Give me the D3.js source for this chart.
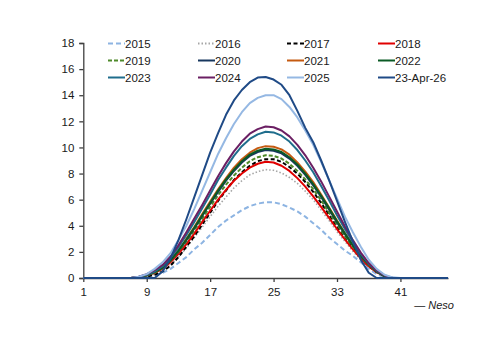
<!DOCTYPE html>
<html>
<head>
<meta charset="utf-8">
<script src="https://cdn.jsdelivr.net/npm/d3@7"></script>
<style>
  body { margin: 0; background: #fff; }
  svg { display: block; }
  text { font-family: "Liberation Sans", Arial, sans-serif; }
</style>
</head>
<body>
<svg id="chart" width="500" height="353"></svg>
<script>
// half-hour periods 1..47
const periods = d3.range(1, 48);
const xTicks = [1, 9, 17, 25, 33, 41];
const yTicks = [0, 2, 4, 6, 8, 10, 12, 14, 16, 18];

// GW by half-hour period (1..47)
const y2015 = [0,0,0,0,0,0,0, 0,0.1,0.2,0.4,0.7,1.15,1.6,2.2,2.7,3.3,3.9,4.4,4.8,5.2,5.5,5.7,5.8,5.8,5.65,5.4,5.1,4.7,4.2,3.7,3.1,2.6,2.1,1.7,1.2,0.7,0.3,0.05,0, 0,0,0,0,0,0,0];
const y2016 = [0,0,0,0,0,0,0, 0,0.15,0.3,0.55,1.0,1.6,2.3,3.1,3.9,4.7,5.5,6.2,6.9,7.45,7.9,8.15,8.3,8.25,8.05,7.7,7.25,6.65,6.0,5.2,4.4,3.55,2.8,2.05,1.4,0.85,0.4,0.15,0, 0,0,0,0,0,0,0];
const y2017 = [0,0,0,0,0,0,0, 0,0.1,0.25,0.5,0.95,1.6,2.4,3.2,4.1,5.0,5.9,6.7,7.5,8.1,8.6,8.95,9.1,9.1,8.9,8.5,8.0,7.35,6.6,5.75,4.85,3.9,3.05,2.25,1.5,0.9,0.45,0.15,0, 0,0,0,0,0,0,0];
const y2018 = [0,0,0,0,0,0,0, 0.05,0.2,0.4,0.7,1.2,1.85,2.6,3.4,4.3,5.15,6.0,6.75,7.45,8.0,8.45,8.75,8.9,8.85,8.6,8.2,7.65,7.0,6.25,5.45,4.6,3.75,2.95,2.2,1.5,0.9,0.45,0.15,0, 0,0,0,0,0,0,0];
const y2019 = [0,0,0,0,0,0,0, 0.05,0.2,0.4,0.75,1.3,2.0,2.8,3.65,4.55,5.45,6.35,7.15,7.85,8.45,8.95,9.25,9.4,9.35,9.15,8.75,8.2,7.55,6.8,5.95,5.0,4.1,3.2,2.4,1.65,1.0,0.5,0.15,0, 0,0,0,0,0,0,0];
const y2020 = [0,0,0,0,0,0,0, 0.05,0.2,0.45,0.8,1.35,2.05,2.9,3.8,4.75,5.7,6.6,7.45,8.2,8.85,9.35,9.65,9.8,9.75,9.55,9.15,8.6,7.9,7.1,6.2,5.25,4.25,3.35,2.5,1.7,1.05,0.5,0.15,0, 0,0,0,0,0,0,0];
const y2021 = [0,0,0,0,0,0,0, 0.05,0.2,0.45,0.8,1.4,2.1,3.0,3.9,4.9,5.85,6.8,7.65,8.45,9.1,9.6,9.95,10.1,10.05,9.85,9.45,8.85,8.15,7.35,6.4,5.4,4.4,3.45,2.55,1.75,1.05,0.55,0.2,0, 0,0,0,0,0,0,0];
const y2022 = [0,0,0,0,0,0,0, 0.05,0.2,0.45,0.8,1.35,2.1,2.95,3.85,4.8,5.75,6.7,7.55,8.3,8.95,9.45,9.75,9.9,9.85,9.65,9.25,8.7,8.0,7.2,6.3,5.35,4.35,3.4,2.5,1.7,1.05,0.5,0.15,0, 0,0,0,0,0,0,0];
const y2023 = [0,0,0,0,0,0,0, 0.1,0.25,0.5,0.9,1.55,2.35,3.3,4.3,5.35,6.4,7.5,8.45,9.35,10.1,10.65,11.0,11.2,11.15,10.9,10.45,9.8,9.0,8.1,7.05,5.95,4.8,3.75,2.75,1.85,1.1,0.55,0.2,0, 0,0,0,0,0,0,0];
const y2024 = [0,0,0,0,0,0,0, 0.1,0.3,0.6,1.0,1.65,2.5,3.5,4.55,5.6,6.7,7.8,8.8,9.7,10.45,11.05,11.4,11.6,11.55,11.3,10.85,10.2,9.4,8.45,7.4,6.25,5.1,3.95,2.9,1.95,1.15,0.6,0.2,0, 0,0,0,0,0,0,0];
const y2025 = [0,0,0,0,0,0,0, 0.1,0.3,0.7,1.2,1.9,2.9,4.0,5.3,6.7,8.1,9.5,10.7,11.8,12.7,13.4,13.8,14.0,14.0,13.7,13.1,12.3,11.3,10.2,8.9,7.5,6.1,4.7,3.5,2.4,1.4,0.7,0.25,0.05, 0,0,0,0,0,0,0];
const yApr26 = [0,0,0,0,0,0,0, 0,0,0,0.5,1.5,2.9,4.5,6.2,7.9,9.6,11.1,12.5,13.6,14.4,15.0,15.35,15.4,15.2,14.8,14.0,12.8,11.5,10.4,9.0,7.5,5.9,4.3,2.8,1.4,0.4,0,0,0, 0,0,0,0,0,0,0];

const seriesNames = ["2015", "2016", "2017", "2018", "2019", "2020", "2021", "2022", "2023", "2024", "2025", "23-Apr-26"];
const seriesValues = [y2015, y2016, y2017, y2018, y2019, y2020, y2021, y2022, y2023, y2024, y2025, yApr26];
const seriesColors = ["#8db4e2", "#a6a6a6", "#000000", "#e00000", "#4f8a2a", "#17375e", "#c55a11", "#0b5a25", "#1f6d8c", "#6b1f63", "#95b8e3", "#1f4a86"];
const seriesDash = ["5,3", "1.5,2", "4,2.5", null, "4,2", null, null, null, null, null, null, null];

const svg = d3.select("#chart");

const x = d3.scaleLinear().domain([1, 47]).range([83.3, 448]);
const y = d3.scaleLinear().domain([0, 18]).range([278, 43]);

// y axis
const yAxis = svg.append("g")
    .attr("transform", "translate(83.3,0)")
    .call(d3.axisLeft(y).tickValues(yTicks).tickSize(4).tickPadding(5));
yAxis.select(".domain").attr("stroke", "#404040").attr("stroke-width", 1.3);
yAxis.selectAll(".tick line").attr("stroke", "#404040").attr("stroke-width", 1.3);
yAxis.selectAll("text").attr("font-size", 11.5).attr("fill", "#1a1a1a")
    .attr("font-family", "Liberation Sans, Arial, sans-serif");

// x axis
const xAxis = svg.append("g")
    .attr("transform", "translate(0,278)")
    .call(d3.axisBottom(x).tickValues(xTicks).tickSize(4).tickPadding(6).tickSizeOuter(0));
xAxis.select(".domain").attr("stroke", "#404040").attr("stroke-width", 1.3);
xAxis.selectAll(".tick line").attr("stroke", "#404040").attr("stroke-width", 1.3);
xAxis.selectAll("text").attr("font-size", 11.5).attr("fill", "#1a1a1a")
    .attr("font-family", "Liberation Sans, Arial, sans-serif");

// lines
const line = d3.line()
    .x((d, i) => x(periods[i]))
    .y(d => y(d));

seriesValues.forEach((vals, i) => {
    svg.append("path")
        .datum(vals)
        .attr("d", line)
        .attr("fill", "none")
        .attr("stroke", seriesColors[i])
        .attr("stroke-width", i === 1 ? 1.6 : 2)
        .attr("stroke-linejoin", "round")
        .attr("stroke-dasharray", seriesDash[i]);
});

// legend: 4 columns x 3 rows
const legendCols = [108, 198, 287, 378];
const legendRows = [43.5, 60.5, 77.5];

const legend = svg.append("g");
seriesNames.forEach((name, i) => {
    const lx = legendCols[i % 4];
    const ly = legendRows[Math.floor(i / 4)];
    legend.append("line")
        .attr("x1", lx).attr("x2", lx + 17)
        .attr("y1", ly).attr("y2", ly)
        .attr("stroke", seriesColors[i])
        .attr("stroke-width", 2)
        .attr("stroke-dasharray", seriesDash[i]);
    legend.append("text")
        .attr("x", lx + 17)
        .attr("y", ly + 4)
        .attr("font-size", 11.5)
        .attr("fill", "#1a1a1a")
        .text(name);
});

// source
svg.append("text")
    .attr("x", 454)
    .attr("y", 309)
    .attr("text-anchor", "end")
    .attr("font-size", 11)
    .attr("font-style", "italic")
    .attr("fill", "#1a1a1a")
    .text("— Neso");
</script>
</body>
</html>
